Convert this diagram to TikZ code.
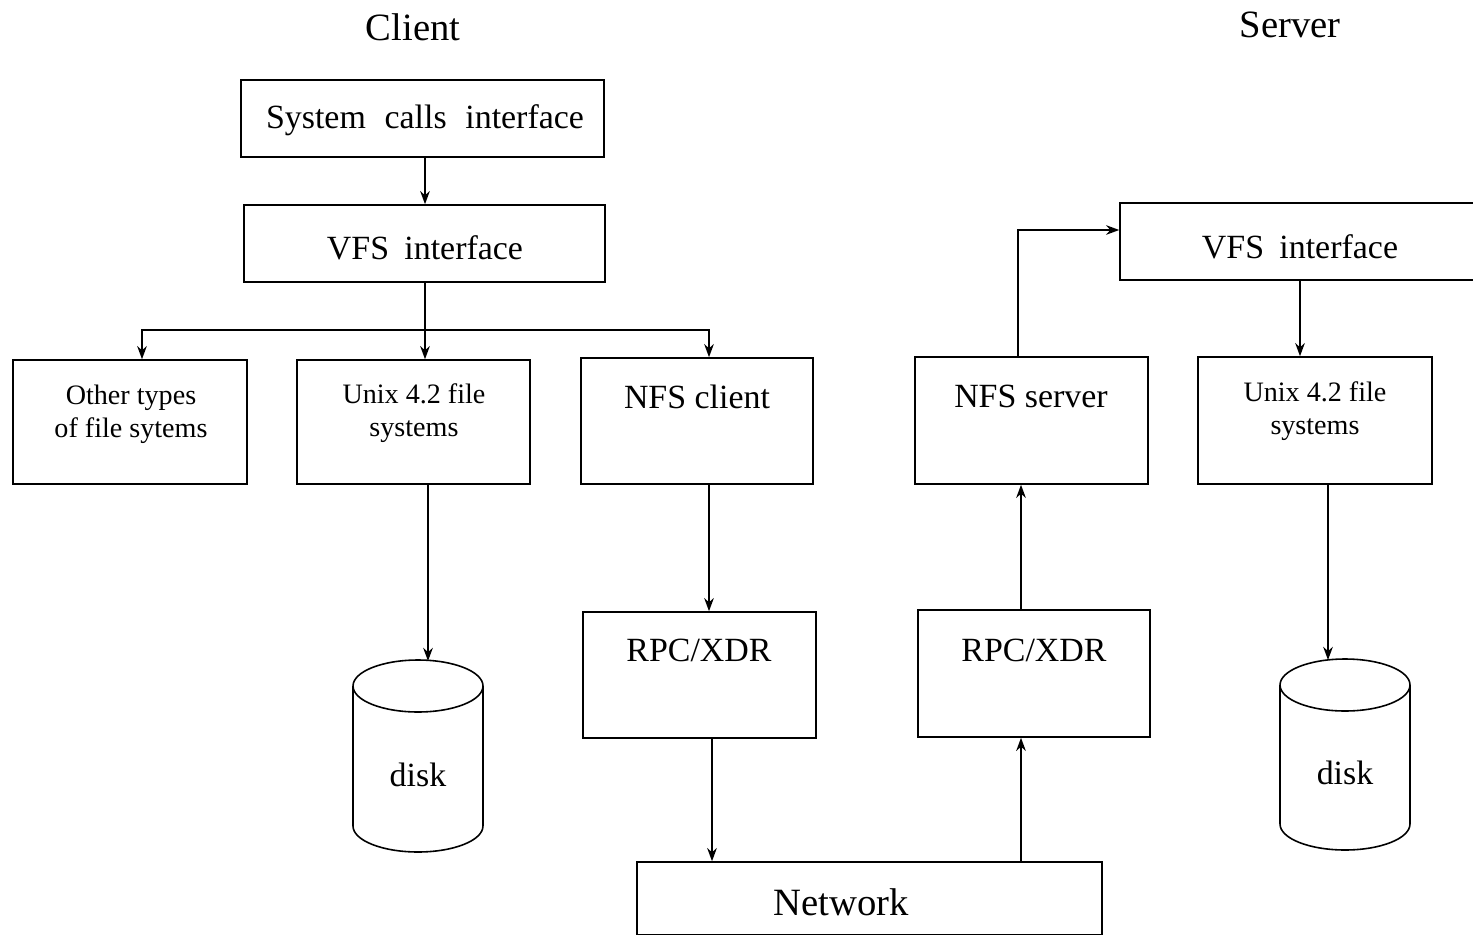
\documentclass[tikz,border=0pt]{standalone}
\usepackage{fontspec}
\setmainfont{Liberation Serif}
\usetikzlibrary{arrows.meta,fit}
\begin{document}
\begin{tikzpicture}[x=0.02cm,y=-0.02cm, line width=0.9pt,
  box/.style={draw, inner sep=0pt, rectangle},
  lbl/.style={font=\fontsize{19.3}{22}\selectfont, inner sep=0pt},
  small/.style={font=\fontsize{16}{18.7}\selectfont, inner sep=0pt, align=center},
  big/.style={font=\fontsize{22}{26}\selectfont, inner sep=0pt},
  arr/.style={-{Stealth[length=7.5pt,width=5.5pt]}}
]
\useasboundingbox (0,0) rectangle (1473,936);

% titles
\node[big] (tclient) at (413,27) {Client};
\node[big] (tserver) at (1290,25) {Server};

% boxes
\node[box, fit={(241,80) (604,157)}] (sys) {};
\node[lbl] (tsys) at (425,120) {System\hspace{0.3em} calls\hspace{0.3em} interface};
\node[box, fit={(244,205) (605,282)}] (vfsc) {};
\node[lbl] (tvfsc) at (425,248) {VFS\hspace{0.2em} interface};
\node[box, fit={(13,360) (247,484)}] (other) {};
\node[small] (tother) at (131,414) {Other types\\of file sytems};
\node[box, fit={(297,360) (530,484)}] (unixc) {};
\node[small] (tunixc) at (414,413) {Unix 4.2 file\\systems};
\node[box, fit={(581,358) (813,484)}] (nfsc) {};
\node[lbl] (tnfsc) at (697,397) {NFS client};
\node[box, fit={(915,357) (1148,484)}] (nfss) {};
\node[lbl] (tnfss) at (1031,396) {NFS server};
\node[box, fit={(1198,357) (1432,484)}] (unixs) {};
\node[small] (tunixs) at (1315,411) {Unix 4.2 file\\systems};
\node[box, fit={(1120,203) (1485,280)}] (vfss) {};
\node[lbl] (tvfss) at (1300,247) {VFS\hspace{0.2em} interface};
\node[box, fit={(583,612) (816,738)}] (rpcc) {};
\node[lbl] (trpcc) at (699,650) {RPC/XDR};
\node[box, fit={(918,610) (1150,737)}] (rpcs) {};
\node[lbl] (trpcs) at (1034,650) {RPC/XDR};
\node[box, fit={(637,862) (1102,934.5)}] (net) {};
\node[big] (tnet) at (841,902) {Network};

% disks
\draw (353,686) -- (353,826) arc[start angle=180, end angle=360, x radius=1.3cm, y radius=0.52cm] -- (483,686);
\draw (418,686) ellipse[x radius=1.3cm, y radius=0.52cm];
\node[lbl] (disk1) at (418,775) {disk};
\coordinate (disk1top) at (428,661);
\draw (1280,685) -- (1280,824) arc[start angle=180, end angle=360, x radius=1.3cm, y radius=0.52cm] -- (1410,685);
\draw (1345,685) ellipse[x radius=1.3cm, y radius=0.52cm];
\node[lbl] (disk2) at (1345,773) {disk};
\coordinate (disk2top) at (1328,660);

% reference coordinates
\coordinate (bus) at (425,330);
\coordinate (xo) at (142,0);
\coordinate (xn) at (709,0);
\coordinate (xr) at (712,0);
\coordinate (xu) at (428,0);
\coordinate (xs) at (1018,0);
\coordinate (xs2) at (1021,0);
\coordinate (xv) at (1300,0);
\coordinate (xu2) at (1328,0);
\coordinate (yv) at (0,230);

% connectors
\draw[arr] (sys.south -| bus) -- (vfsc.north -| bus);
\draw (vfsc.south -| bus) -- (bus);
\draw[arr] (bus) -- (unixc.north -| bus);
\draw[arr] (bus) -| (other.north -| xo);
\draw[arr] (bus) -| (nfsc.north -| xn);
\draw[arr] (unixc.south -| xu) -- (disk1top);
\draw[arr] (nfsc.south -| xn) -- (rpcc.north -| xn);
\draw[arr] (rpcc.south -| xr) -- (net.north -| xr);
\draw[arr] (net.north -| xs2) -- (rpcs.south -| xs2);
\draw[arr] (rpcs.north -| xs2) -- (nfss.south -| xs2);
\draw[arr] (nfss.north -| xs) |- (vfss.west |- yv);
\draw[arr] (vfss.south -| xv) -- (unixs.north -| xv);
\draw[arr] (unixs.south -| xu2) -- (disk2top);
\end{tikzpicture}
\end{document}
